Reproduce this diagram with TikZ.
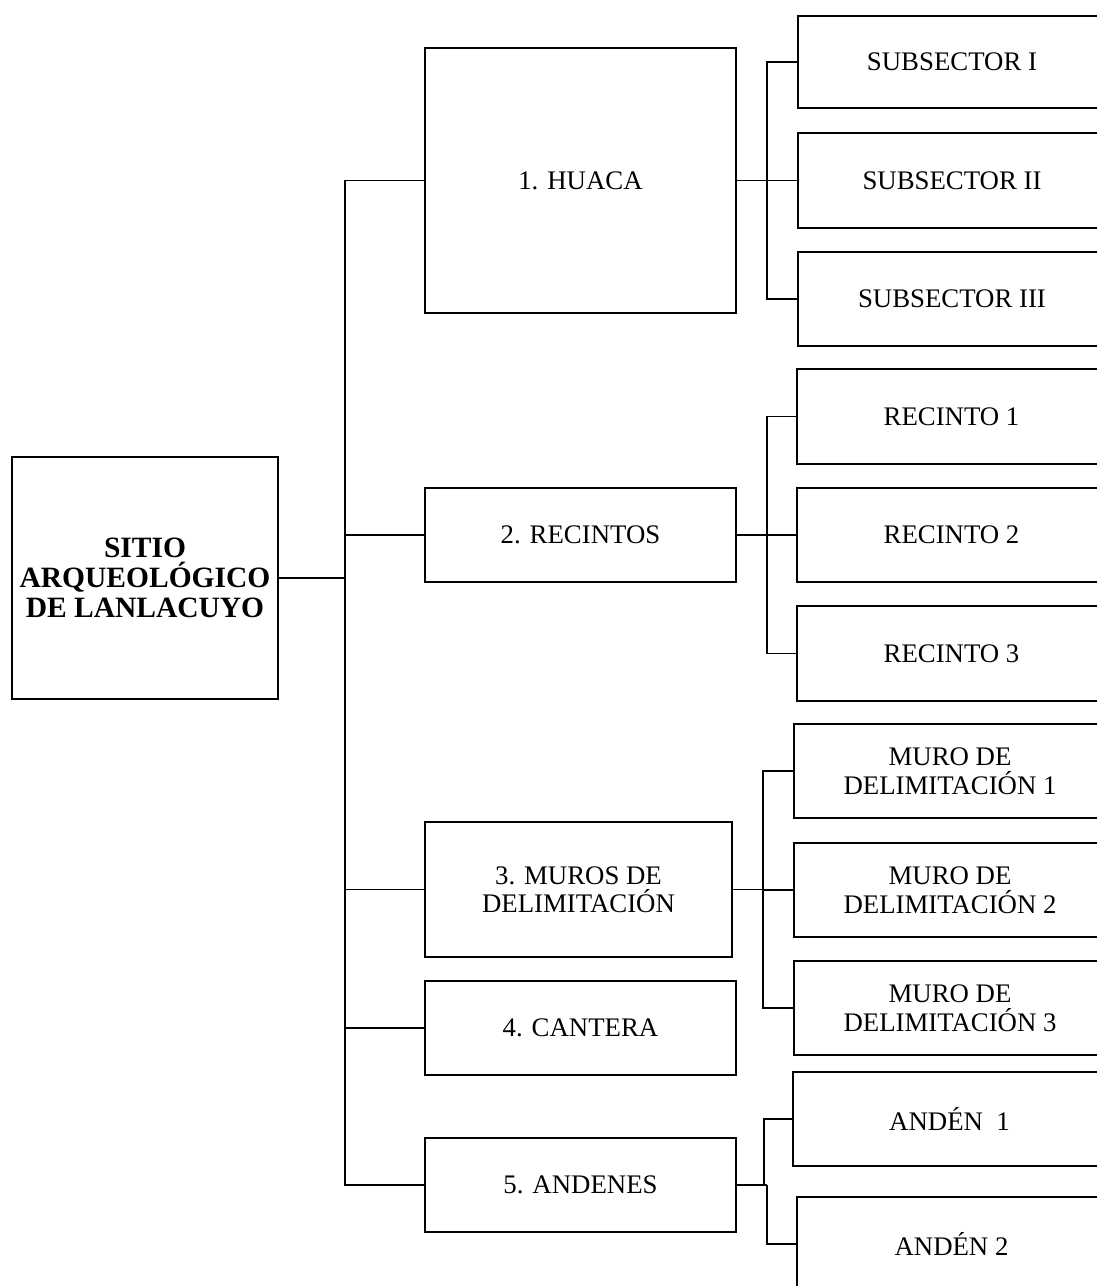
\documentclass[tikz,border=0pt]{standalone}
\usepackage{fontspec}
\setmainfont{Liberation Serif}
\begin{document}
\begin{tikzpicture}[x=1pt,y=-1pt,
  box/.style={draw=black,line width=1.7pt,fill=white,inner sep=0pt,align=center,
    font=\fontsize{26.8}{28.5}\selectfont},
  rootbox/.style={box,font=\fontsize{29.5}{30}\selectfont\bfseries},
  conn/.style={draw=black,line width=1.7pt}]
\clip (0,0) rectangle (1097,1286);
\fill[white] (0,0) rectangle (1097,1286);
% root
\node[rootbox,minimum width=266pt,minimum height=242pt] (root) at (145,578) {SITIO\\ARQUEOLÓGICO\\DE LANLACUYO};
% level 1
\node[box,minimum width=311pt,minimum height=265pt] (huaca) at (580.5,180.5) {1. HUACA};
\node[box,minimum width=311pt,minimum height=94pt] (recintos) at (580.5,535) {2. RECINTOS};
\node[box,minimum width=307pt,minimum height=135pt] (muros) at (578.5,889.5) {3. MUROS DE\\DELIMITACIÓN};
\node[box,minimum width=311pt,minimum height=94pt] (cantera) at (580.5,1028) {4. CANTERA};
\node[box,minimum width=311pt,minimum height=94pt] (andenes) at (580.5,1185) {5. ANDENES};
% level 2
\node[box,minimum width=308pt,minimum height=92pt] (s1) at (952,62) {SUBSECTOR I};
\node[box,minimum width=308pt,minimum height=95pt] (s2) at (952,180.5) {SUBSECTOR II};
\node[box,minimum width=308pt,minimum height=94pt] (s3) at (952,299) {SUBSECTOR III};
\node[box,minimum width=309pt,minimum height=95pt] (r1) at (951.5,416.5) {RECINTO 1};
\node[box,minimum width=309pt,minimum height=94pt] (r2) at (951.5,535) {RECINTO 2};
\node[box,minimum width=309pt,minimum height=95pt] (r3) at (951.5,653.5) {RECINTO 3};
\node[box,minimum width=312pt,minimum height=94pt] (m1) at (950,771) {MURO DE\\DELIMITACIÓN 1};
\node[box,minimum width=312pt,minimum height=94pt] (m2) at (950,890) {MURO DE\\DELIMITACIÓN 2};
\node[box,minimum width=312pt,minimum height=94pt] (m3) at (950,1008) {MURO DE\\DELIMITACIÓN 3};
\node[box,minimum width=313pt,minimum height=94pt] (a1) at (949.5,1119) {ANDÉN~~1};
\node[box,minimum width=309pt,minimum height=94pt] (a2) at (951.5,1244) {ANDÉN 2};
% trunk
\coordinate (tr) at (345,0);
\draw[conn] (root.east) -- (root.east -| tr);
\draw[conn] (huaca.west) -- (huaca.west -| tr) -- (andenes.west -| tr) -- (andenes.west);
\draw[conn] (recintos.west) -- (recintos.west -| tr);
\draw[conn] (muros.west) -- (muros.west -| tr);
\draw[conn] (cantera.west) -- (cantera.west -| tr);
% huaca branch
\coordinate (hb) at (767,0);
\draw[conn] (huaca.east) -- (huaca.east -| hb);
\draw[conn] (s1.west) -- (s1.west -| hb) -- (s3.west -| hb) -- (s3.west);
\draw[conn] (s2.west) -- (s2.west -| hb);
% recintos branch
\coordinate (rb) at (767,0);
\draw[conn] (recintos.east) -- (recintos.east -| rb);
\draw[conn] (r1.west) -- (r1.west -| rb) -- (r3.west -| rb) -- (r3.west);
\draw[conn] (r2.west) -- (r2.west -| rb);
% muros branch
\coordinate (mb) at (763,0);
\draw[conn] (muros.east) -- (muros.east -| mb);
\draw[conn] (m1.west) -- (m1.west -| mb) -- (m3.west -| mb) -- (m3.west);
\draw[conn] (m2.west) -- (m2.west -| mb);
% andenes branch
\coordinate (ab1) at (764,0);
\coordinate (ab2) at (767,0);
\draw[conn] (andenes.east) -- (andenes.east -| ab2);
\draw[conn] (a1.west) -- (a1.west -| ab1) -- (andenes.east -| ab1);
\draw[conn] (andenes.east -| ab2) -- (a2.west -| ab2) -- (a2.west);
\end{tikzpicture}
\end{document}
